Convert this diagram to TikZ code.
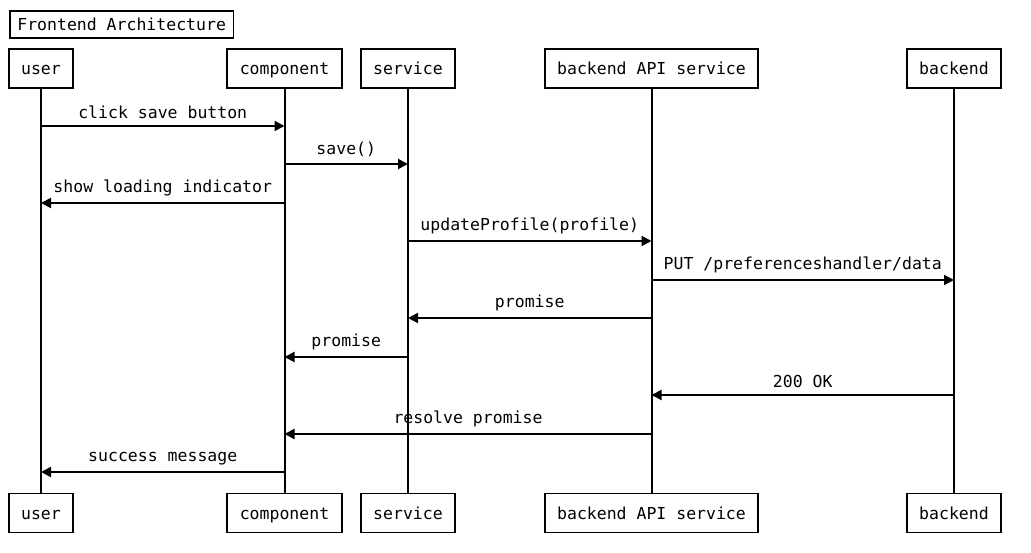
\documentclass[tikz,border=0pt]{standalone}
\usepackage{fontspec}
\setmainfont{DejaVu Sans Mono}
\usetikzlibrary{arrows.meta}
\begin{document}
\begin{tikzpicture}[x=1pt,y=-1pt,
  every node/.style={font=\fontsize{16.5}{19}\selectfont},
  actor/.style={draw,line width=1.9pt,minimum height=39pt,inner xsep=12.5pt,inner ysep=0pt,text height=14pt,text depth=1.5pt,anchor=center},
  titlebox/.style={draw,line width=1.7pt,minimum height=27pt,inner xsep=7.5pt,inner ysep=0pt,text height=13.5pt,text depth=2pt},
  life/.style={line width=2pt},
  msg/.style={line width=2pt,-{Triangle[length=10pt,width=10pt]}},
  lbl/.style={midway,above,inner sep=0pt,yshift=6pt}]
\useasboundingbox (0,0) rectangle (1031,553);
\node[titlebox,anchor=north west] (title) at (9,10) {Frontend Architecture};
% top actors
\node[actor] (ut) at (41,68.5) {user};
\node[actor] (ct) at (284.5,68.5) {component};
\node[actor] (st) at (408,68.5) {service};
\node[actor] (at) at (651.5,68.5) {backend API service};
\node[actor] (bt) at (954,68.5) {backend};
% bottom actors
\node[actor] (ub) at (41,513) {user};
\node[actor] (cb) at (284.5,513) {component};
\node[actor] (sb) at (408,513) {service};
\node[actor] (ab) at (651.5,513) {backend API service};
\node[actor] (bb) at (954,513) {backend};
% lifelines
\draw[life] (ut) -- (ub);
\draw[life] (ct) -- (cb);
\draw[life] (st) -- (sb);
\draw[life] (at) -- (ab);
\draw[life] (bt) -- (bb);
% message rows
\coordinate (r1) at (0,126);
\coordinate (r2) at (0,164);
\coordinate (r3) at (0,203);
\coordinate (r4) at (0,241);
\coordinate (r5) at (0,280);
\coordinate (r6) at (0,318);
\coordinate (r7) at (0,357);
\coordinate (r8) at (0,395);
\coordinate (r9) at (0,434);
\coordinate (r10) at (0,472);
\draw[msg] (ut |- r1) -- node[lbl] {click save button} (ct |- r1);
\draw[msg] (ct |- r2) -- node[lbl] {save()} (st |- r2);
\draw[msg] (ct |- r3) -- node[lbl] {show loading indicator} (ut |- r3);
\draw[msg] (st |- r4) -- node[lbl] {updateProfile(profile)} (at |- r4);
\draw[msg] (at |- r5) -- node[lbl] {PUT /preferenceshandler/data} (bt |- r5);
\draw[msg] (at |- r6) -- node[lbl] {promise} (st |- r6);
\draw[msg] (st |- r7) -- node[lbl] {promise} (ct |- r7);
\draw[msg] (bt |- r8) -- node[lbl] {200 OK} (at |- r8);
\draw[msg] (at |- r9) -- node[lbl] {resolve promise} (ct |- r9);
\draw[msg] (ct |- r10) -- node[lbl] {success message} (ut |- r10);
\end{tikzpicture}
\end{document}
